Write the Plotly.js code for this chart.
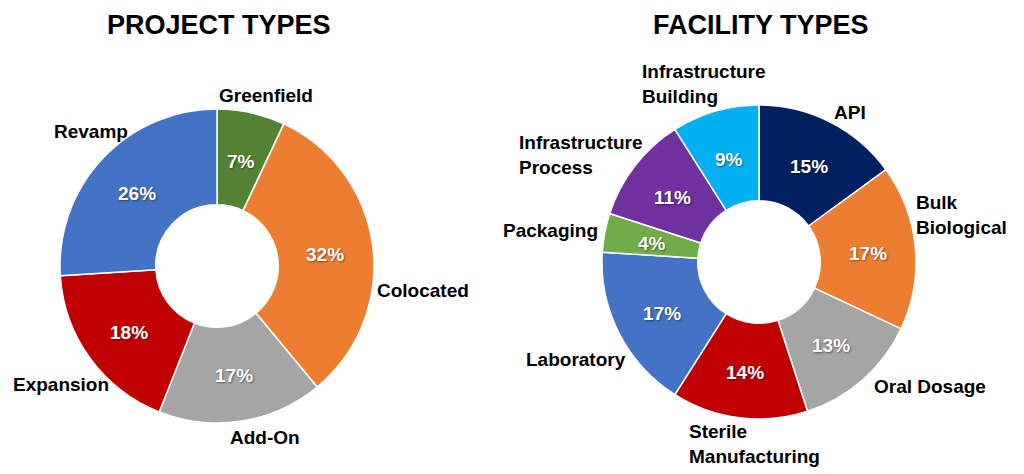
<!DOCTYPE html>
<html>
<head>
<meta charset="utf-8">
<script src="https://cdn.plot.ly/plotly-3.0.1.min.js"></script>
<style>
  html, body { margin: 0; padding: 0; background: #ffffff; }
  #chart { width: 1024px; height: 474px; }
</style>
</head>
<body>
<div id="chart"></div>
<script>
// ---- Data ----
const projectTitle = 'PROJECT TYPES';
const projectLabels = ['Greenfield', 'Colocated', 'Add-On', 'Expansion', 'Revamp'];
const projectValues = [7, 32, 17, 18, 26];
const projectColors = ['#548235', '#ED7D31', '#A5A5A5', '#C00000', '#4472C4'];

const facilityTitle = 'FACILITY TYPES';
const facilityLabels = ['API', 'Bulk<br>Biological', 'Oral Dosage', 'Sterile<br>Manufacturing',
  'Laboratory', 'Packaging', 'Infrastructure<br>Process', 'Infrastructure<br>Building'];
const facilityValues = [15, 17, 13, 14, 17, 4, 11, 9];
const facilityColors = ['#002060', '#ED7D31', '#A5A5A5', '#C00000', '#4472C4', '#70AD47', '#7030A0', '#00B0F0'];

// ---- Layout / style (not data) ----
const W = 1024, H = 474;
const FONT = '"Liberation Sans", Arial, sans-serif';
const HOLE = 0.39;
const pies = [
  { cx: 217, cy: 266, r: 157 },
  { cx: 759, cy: 262, r: 157 }
];
// small manual label nudges (px) mimicking the hand-placed labels of the original
const projectNudge = [[11, 2], [6, 50], [21, 2], [6, 1], [12, -5]];
const facilityNudge = [[13, 4], [1, -28], [38, -26], [19, -3], [-1, 5], [-8, 7], [-6, 27], [-1, 9]];

function domainOf(p) {
  return {
    x: [(p.cx - p.r) / W, (p.cx + p.r) / W],
    y: [1 - (p.cy + p.r) / H, 1 - (p.cy - p.r) / H]
  };
}

function pieTrace(labels, values, colors, p) {
  return {
    type: 'pie',
    labels: labels,
    values: values,
    sort: false,
    direction: 'clockwise',
    rotation: 0,
    hole: HOLE,
    domain: domainOf(p),
    marker: { colors: colors, line: { color: '#ffffff', width: 1.5 } },
    textinfo: 'none',
    showlegend: false,
    hoverinfo: 'label+percent'
  };
}

const canvas = document.createElement('canvas');
const ctx = canvas.getContext('2d');
ctx.font = 'bold 19px ' + FONT;

function sliceAngles(values) {
  const total = values.reduce((a, b) => a + b, 0);
  let cum = 0;
  return values.map(v => {
    const mid = (cum + v / 2) / total * 2 * Math.PI;
    cum += v;
    return mid;
  });
}

function labelAnnotations(labels, values, p, nudge) {
  const mids = sliceAngles(values);
  const lineH = 23;
  const pad = -2;
  return labels.map((lab, i) => {
    const mid = mids[i];
    const lines = lab.split('<br>');
    const w = Math.max(...lines.map(s => ctx.measureText(s).width));
    const h = lines.length * lineH;
    const s = Math.sin(mid), c = Math.cos(mid);
    const d = p.r + pad + (w / 2) * Math.abs(s) + (h / 2) * Math.abs(c);
    const x = p.cx + d * s + nudge[i][0];
    const y = p.cy - d * c + nudge[i][1];
    return {
      x: x / W, y: 1 - y / H, xref: 'paper', yref: 'paper',
      xanchor: 'center', yanchor: 'middle', align: 'left',
      showarrow: false, text: lab,
      font: { family: FONT, size: 19, color: '#000000', weight: 'bold' }
    };
  });
}

function percentAnnotations(values, p) {
  const mids = sliceAngles(values);
  const total = values.reduce((a, b) => a + b, 0);
  const rm = p.r * (1 + HOLE) / 2;
  return values.map((v, i) => {
    const x = p.cx + rm * Math.sin(mids[i]);
    const y = p.cy - rm * Math.cos(mids[i]) + 2;
    return {
      x: x / W, y: 1 - y / H, xref: 'paper', yref: 'paper',
      xanchor: 'center', yanchor: 'middle', showarrow: false,
      text: Math.round(v / total * 100) + '%',
      font: { family: FONT, size: 19, color: '#ffffff', weight: 'bold',
              shadow: '1px 1px 2px rgba(0,0,0,0.45)' }
    };
  });
}

function titleAnnotation(text, xc) {
  return {
    x: xc / W, y: 1 - 25 / H, xref: 'paper', yref: 'paper',
    xanchor: 'center', yanchor: 'middle', showarrow: false,
    text: text,
    font: { family: FONT, size: 27, color: '#000000', weight: 'bold' }
  };
}

const data = [
  pieTrace(projectLabels, projectValues, projectColors, pies[0]),
  pieTrace(facilityLabels, facilityValues, facilityColors, pies[1])
];

const layout = {
  width: W, height: H,
  margin: { l: 0, r: 0, t: 0, b: 0 },
  paper_bgcolor: '#ffffff',
  plot_bgcolor: '#ffffff',
  showlegend: false,
  annotations: [
    titleAnnotation(projectTitle, 219),
    titleAnnotation(facilityTitle, 761),
    ...labelAnnotations(projectLabels, projectValues, pies[0], projectNudge),
    ...labelAnnotations(facilityLabels, facilityValues, pies[1], facilityNudge),
    ...percentAnnotations(projectValues, pies[0]),
    ...percentAnnotations(facilityValues, pies[1])
  ]
};

Plotly.newPlot('chart', data, layout, { displayModeBar: false, staticPlot: true });
</script>
</body>
</html>
